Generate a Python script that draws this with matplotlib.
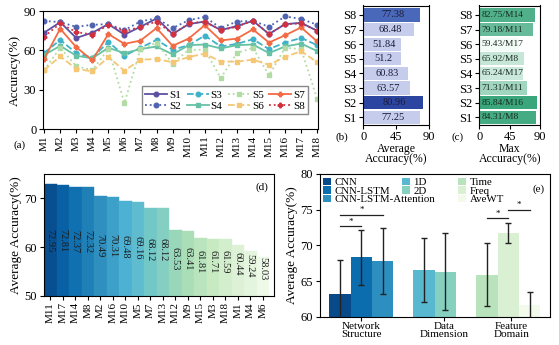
import numpy as np
import matplotlib
matplotlib.use('Agg')
import matplotlib.pyplot as plt
from matplotlib.colors import LinearSegmentedColormap
from matplotlib.legend import Legend

plt.rcParams['font.family'] = ['Liberation Serif', 'DejaVu Serif']
plt.rcParams['font.size'] = 8
plt.rcParams['axes.linewidth'] = 0.8
plt.rcParams['xtick.major.size'] = 3
plt.rcParams['ytick.major.size'] = 3
plt.rcParams['xtick.major.pad'] = 1.5
plt.rcParams['ytick.major.pad'] = 2

# (a) accuracy of every subject on every model
models = ['M%d' % i for i in range(1, 19)]
s1 = [73.5, 81.5, 69.5, 73.5, 80.0, 72.0, 78.0, 84.31, 72.5, 80.0, 82.0, 75.5, 78.5, 82.5, 72.5, 80.0, 81.0, 75.0]
s2 = [82.5, 81.5, 78.0, 79.5, 80.0, 75.5, 82.0, 84.5, 77.0, 83.0, 85.5, 77.0, 82.0, 82.5, 78.0, 85.84, 84.0, 79.5]
s3 = [58.0, 68.0, 58.0, 54.5, 66.5, 56.0, 62.0, 68.0, 60.5, 64.0, 71.31, 63.0, 65.0, 68.5, 61.0, 66.0, 69.5, 64.0]
s4 = [56.5, 63.5, 56.0, 54.0, 62.0, 58.0, 61.0, 63.0, 57.0, 64.0, 64.5, 61.5, 64.0, 64.5, 58.0, 63.0, 65.24, 59.5]
s5 = [45.0, 62.0, 48.0, 45.0, 61.0, 20.0, 61.0, 65.92, 50.0, 60.5, 60.5, 39.0, 58.0, 62.0, 41.0, 62.0, 61.0, 23.0]
s6 = [45.0, 55.5, 46.0, 44.0, 55.0, 44.5, 53.0, 53.5, 51.0, 55.0, 57.5, 51.5, 51.5, 53.0, 49.0, 55.0, 59.43, 51.0]
s7 = [53.5, 76.5, 62.5, 52.5, 72.5, 65.0, 67.5, 77.0, 63.5, 69.0, 79.18, 67.6, 69.0, 76.0, 66.0, 71.5, 77.5, 66.8]
s8 = [70.5, 80.5, 74.0, 72.0, 79.5, 74.5, 78.0, 82.0, 72.5, 80.5, 82.0, 75.5, 78.0, 82.75, 72.5, 80.0, 80.5, 75.0]
subjects = ['S1', 'S2', 'S3', 'S4', 'S5', 'S6', 'S7', 'S8']
series = [s1, s2, s3, s4, s5, s6, s7, s8]

# (b) and (c)
avg_acc = [77.25, 80.96, 63.57, 60.83, 51.2, 51.84, 68.48, 77.38]
max_acc = [84.31, 85.84, 71.31, 65.24, 65.92, 59.43, 79.18, 82.75]
max_model = ['M8', 'M16', 'M11', 'M17', 'M8', 'M17', 'M11', 'M14']

# (d) models ranked by average accuracy
rank_models = ['M11', 'M17', 'M14', 'M8', 'M2', 'M16', 'M10', 'M5', 'M7',
               'M13', 'M12', 'M9', 'M15', 'M3', 'M18', 'M1', 'M4', 'M6']
rank_acc = [72.95, 72.81, 72.37, 72.32, 70.49, 70.31, 69.48, 69.16, 68.12,
            68.12, 63.53, 63.41, 61.81, 61.71, 61.59, 60.44, 59.24, 58.03]

# (e) grouped comparison
groups = ['Network\nStructure', 'Data\nDimension', 'Feature\nDomain']
group_sizes = [3, 2, 3]
methods = ['CNN', 'CNN-LSTM', 'CNN-LSTM-Attention', '1D', '2D', 'Time', 'Freq', 'AveWT']
method_mean = [63.2, 68.3, 67.8, 66.5, 66.3, 65.9, 71.7, 61.6]
method_std = [4.8, 3.8, 4.6, 4.5, 5.4, 4.4, 1.4, 1.8]
sig_pairs = [(0, 1), (0, 2), (5, 6), (6, 7)]

W, H = 559, 345
fig = plt.figure(figsize=(W / 100, H / 100), dpi=100)


def box(l, t, r, b):
    return [l / W, 1 - b / H, (r - l) / W, (b - t) / H]


# ---- (a)
ax = fig.add_axes(box(43.3, 11, 318, 129.3))
colors = ['#5e4fa2', '#4f63b0', '#3fb2c8', '#66c2a5', '#b3dba6', '#f5c775', '#f26b44', '#d3303f']
styles = ['-', ':', '--', '-', ':', '--', '-', ':']
markers = ['o', 'o', 'o', 's', 's', 's', 'P', 'P']
x = np.arange(len(models))
for name, vals, c, ls, mk in zip(subjects, series, colors, styles, markers):
    ax.plot(x, vals, color=c, ls=ls, marker=mk, ms=3.3, lw=1.3, label=name)
ax.set_xlim(-0.05, 17.05)
ax.set_ylim(0, 90)
ax.set_yticks([0, 30, 60, 90])
ax.set_yticklabels(['0', '30', '60', '90'], fontsize=9)
ax.set_xticks(x)
ax.set_xticklabels(models, rotation=90)
ax.set_ylabel('Accuracy(%)', fontsize=9.5, labelpad=2)
ax.legend(ncol=4, loc='lower right', bbox_to_anchor=(0.985, 0.08),
          fontsize=8, handlelength=2.0, handletextpad=0.15, columnspacing=0.5,
          labelspacing=0.15, borderpad=0.3, frameon=True, fancybox=False,
          edgecolor='#888888', framealpha=1)
fig.text(20 / W, 1 - 145 / H, '(a)', ha='center', va='center', fontsize=8)

# ---- (b)
axb = fig.add_axes(box(363.3, 5.5, 429.3, 125))
yb = np.arange(len(subjects))
order_b = np.argsort(avg_acc)[::-1]
bcol = ['#c6cceb'] * len(avg_acc)
bcol[order_b[0]] = '#2c45a0'
bcol[order_b[1]] = '#4a68ba'
axb.barh(yb, avg_acc, height=0.9, color=bcol)
for i, v in enumerate(avg_acc):
    axb.text(v / 2 + 2, i, '%g' % v, ha='center', va='center', fontsize=7.5, color='#1b1b3a')
axb.set_xlim(0, 90)
axb.set_ylim(-0.53, 7.65)
axb.set_xticks([0, 45, 90])
axb.set_xticklabels(['0', '45', '90'], fontsize=9)
axb.set_yticks(yb)
axb.set_yticklabels(subjects, fontsize=9)
axb.set_xlabel('Average\nAccuracy(%)', fontsize=8.5, labelpad=0, linespacing=0.8)
fig.text(342 / W, 1 - 137 / H, '(b)', ha='center', va='center', fontsize=8)

# ---- (c)
axc = fig.add_axes(box(479.3, 5.5, 540, 125))
gcmap = LinearSegmentedColormap.from_list('g', ['#f3fbf6', '#3aa67b'])
lo, hi = min(max_acc), max(max_acc)
ccol = [gcmap((v - lo) / (hi - lo)) for v in max_acc]
axc.barh(yb, max_acc, height=0.9, color=ccol)
for i, (v, m) in enumerate(zip(max_acc, max_model)):
    axc.text(3, i, '%g/%s' % (v, m), ha='left', va='center', fontsize=6.8, color='#1a2a22')
axc.set_xlim(0, 90)
axc.set_ylim(-0.53, 7.65)
axc.set_xticks([0, 45, 90])
axc.set_xticklabels(['0', '45', '90'], fontsize=9)
axc.set_yticks(yb)
axc.set_yticklabels(subjects, fontsize=9)
axc.set_xlabel('Max\nAccuracy(%)', fontsize=8.5, labelpad=0, linespacing=0.8)
fig.text(458 / W, 1 - 137 / H, '(c)', ha='center', va='center', fontsize=8)

# ---- (d)
axd = fig.add_axes(box(44, 174, 274, 296))
xd = np.arange(len(rank_models))
dcol = plt.cm.GnBu(np.linspace(0.95, 0.05, len(rank_models)))
axd.bar(xd, rank_acc, width=1.0, color=dcol, edgecolor=dcol, linewidth=0.3)
for i, v in enumerate(rank_acc):
    axd.text(i, 33.6 + 0.38 * v, '%.2f' % v, rotation=270, ha='center', va='center',
             fontsize=7.5, color='#1c1c1c')
axd.set_xlim(-0.5, 17.9)
axd.set_ylim(50, 75)
axd.set_yticks([50, 60, 70])
axd.set_yticklabels(['50', '60', '70'], fontsize=9)
axd.set_xticks(xd)
axd.set_xticklabels(rank_models, rotation=90)
axd.set_ylabel('Average Accuracy(%)', fontsize=9.5, labelpad=2)
axd.text(0.975, 0.93, '(d)', transform=axd.transAxes, ha='right', va='top', fontsize=8)

# ---- (e)
axe = fig.add_axes(box(320, 174, 550, 316.7))
pos = []
start = 0.0
centers = []
for n in group_sizes:
    p = [start + k for k in range(n)]
    pos += p
    centers.append(np.mean(p))
    start = p[-1] + 1.95
pos = np.array(pos)
ecol = plt.cm.GnBu([0.97, 0.86, 0.74, 0.6, 0.47, 0.32, 0.17, 0.03])
bars = []
for p, m, s, c, lab in zip(pos, method_mean, method_std, ecol, methods):
    bars.append(axe.bar(p, m - 60, bottom=60, width=1.0, color=c, label=lab))
    axe.errorbar(p, m, yerr=s, fmt='none', ecolor='#222222', elinewidth=1.0, capsize=2.2, capthick=1.0)
sig_y = [72.7, 74.3, 73.8, 75.0]
for (i, j), yy in zip(sig_pairs, sig_y):
    axe.plot([pos[i], pos[j]], [yy, yy], color='#222222', lw=0.9)
    axe.text((pos[i] + pos[j]) / 2, yy + 0.05, '*', ha='center', va='bottom', fontsize=6.5)
axe.set_xlim(-0.94, 9.86)
axe.set_ylim(60, 80)
axe.set_yticks([60, 65, 70, 75, 80])
axe.set_yticklabels(['60', '65', '70', '75', '80'], fontsize=9)
axe.set_xticks([centers[0], pos[4] - 0.05, centers[2] + 0.15])
axe.set_xticklabels(groups, linespacing=0.8, fontsize=8)
axe.tick_params(axis='x', pad=1)
axe.set_ylabel('Average Accuracy(%)', fontsize=9.5, labelpad=2)
# one legend per group, placed as three columns
col_x = [0.012, 0.355, 0.6]
k = 0
for g, n in enumerate(group_sizes):
    leg = Legend(axe, [bars[k + q] for q in range(n)], methods[k:k + n],
                 loc='upper left', bbox_to_anchor=(col_x[g], 0.975), frameon=False,
                 fontsize=7.8, handlelength=0.75, handleheight=0.7, handletextpad=0.35,
                 labelspacing=-0.1, borderpad=0, borderaxespad=0)
    axe.add_artist(leg)
    k += n
axe.text(0.975, 0.93, '(e)', transform=axe.transAxes, ha='right', va='top', fontsize=8)

fig.savefig('out.png', dpi=100)
